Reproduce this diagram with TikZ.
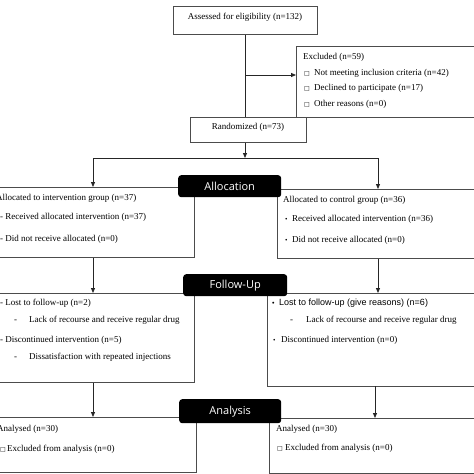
\documentclass[tikz,border=0pt]{standalone}
\usepackage{fontspec}
\setmainfont{Liberation Serif}
\newfontfamily\sansf{Liberation Sans}
\newfontfamily\stagef{Open Sans}
\newfontfamily\symf{DejaVu Sans}
\usetikzlibrary{arrows.meta}
\newcommand\mysq{{\symf\fontsize{6}{6}\selectfont □}}
\newcommand\mybul{{\fontsize{7}{7}\selectfont •}}
\begin{document}
\begin{tikzpicture}[x=1pt,y=-1pt,
 box/.style={draw=black!70, line width=0.9pt, rectangle, inner sep=0pt, anchor=north west},
 stage/.style={fill=black, rounded corners=3pt, text=white, font=\stagef\fontsize{11}{13}\selectfont, inner sep=0pt, anchor=north west},
 txt/.style={anchor=mid west, inner sep=0pt, font=\fontsize{9}{11}\selectfont},
 stxt/.style={anchor=mid west, inner sep=0pt, font=\sansf\fontsize{9}{11}\selectfont},
 arr/.style={-{Triangle[length=5pt,width=4pt]}, line width=0.8pt, draw=black!85},
 ln/.style={line width=0.8pt, draw=black!85}]
\useasboundingbox (0,0) rectangle (474,474);
\fill[white] (0,0) rectangle (474,474);
\clip (0,0) rectangle (474,474);

% boxes
\node[box, minimum width=144pt, minimum height=28pt] (assess) at (173,6) {};
\node[box, minimum width=190pt, minimum height=71pt] (excl) at (296,46) {};
\node[box, minimum width=116pt, minimum height=25pt, fill=white] (rand) at (190,117) {};
\node[box, minimum width=199pt, minimum height=70pt] (allocL) at (-5,187) {};
\node[box, minimum width=210pt, minimum height=69pt] (allocR) at (277,189) {};
\node[box, minimum width=199pt, minimum height=89pt] (follL) at (-5,293) {};
\node[box, minimum width=220pt, minimum height=93pt] (follR) at (267,293) {};
\node[box, minimum width=201pt, minimum height=55pt] (anaL) at (-5,417) {};
\node[box, minimum width=220pt, minimum height=55pt] (anaR) at (269,418) {};

% stage labels
\node[stage, minimum width=103pt, minimum height=22pt] (stAlloc) at (178,175) {Allocation};
\node[stage, minimum width=104pt, minimum height=22pt] (stFollow) at (183,274) {Follow-Up};
\node[stage, minimum width=102pt, minimum height=24pt] (stAna) at (179,399) {Analysis};

% texts
\node[txt, anchor=mid] (tAssess) at (245,17) {Assessed for eligibility (n=132)};
\node[txt] (tExcl) at (303,57) {Excluded (n=59)};
\node[txt] (sqE1) at (304,73) {\mysq};
\node[txt] (tE1) at (314,73) {Not meeting inclusion criteria (n=42)};
\node[txt] (sqE2) at (304,88) {\mysq};
\node[txt] (tE2) at (314,88) {Declined to participate (n=17)};
\node[txt] (sqE3) at (304,104) {\mysq};
\node[txt] (tE3) at (314,104) {Other reasons (n=0)};
\node[txt, anchor=mid] (tRand) at (248,127) {Randomized (n=73)};

\node[txt] (tAL0) at (-4,198) {Allocated to intervention group (n=37)};
\node[txt] (tAL1) at (0,217) {- Received allocated intervention (n=37)};
\node[txt] (tAL2) at (0,239) {- Did not receive allocated (n=0)};

\node[txt] (tAR0) at (283,200) {Allocated to control group (n=36)};
\node[txt] (bAR1) at (285,219) {\mybul};
\node[txt] (tAR1) at (292,219) {Received allocated intervention (n=36)};
\node[txt] (bAR2) at (285,240) {\mybul};
\node[txt] (tAR2) at (292,240) {Did not receive allocated (n=0)};

\node[txt] (tFL1) at (0,303) {- Lost to follow-up (n=2)};
\node[txt] (dFL2) at (14,320) {-};
\node[txt] (tFL2) at (29,320) {Lack of recourse and receive regular drug};
\node[txt] (tFL3) at (0,340) {- Discontinued intervention (n=5)};
\node[txt] (dFL4) at (14,357) {-};
\node[txt] (tFL4) at (29,357) {Dissatisfaction with repeated injections};

\node[stxt] (bFR1) at (272,303) {\mybul};
\node[stxt] (tFR1) at (279,303) {Lost to follow-up (give reasons) (n=6)};
\node[txt] (dFR2) at (290,320) {-};
\node[txt] (tFR2) at (306,320) {Lack of recourse and receive regular drug};
\node[txt] (bFR3) at (273,340) {\mybul};
\node[txt] (tFR3) at (281,340) {Discontinued intervention (n=0)};

\node[txt] (tNL1) at (-3,429) {Analysed (n=30)};
\node[txt] (sqNL2) at (0,449) {\mysq};
\node[txt] (tNL2) at (7,449) {Excluded from analysis (n=0)};

\node[txt] (tNR1) at (276,429) {Analysed (n=30)};
\node[txt] (sqNR2) at (277,448) {\mysq};
\node[txt] (tNR2) at (285,448) {Excluded from analysis (n=0)};

% connectors
\coordinate (jEx) at (245,75);
\coordinate (jTop) at (245,158);
\coordinate (jL) at (93,158);
\coordinate (jR) at (378,158);
\draw[ln] (assess.south -| jEx) -- (jEx |- rand.north);
\draw[arr] (jEx) -- (jEx -| excl.west);
\draw[arr] (jEx |- rand.south) -- (jTop);
\draw[ln] (jL) -- (jR);
\draw[arr] (jL) -- (jL |- allocL.north);
\draw[arr] (jR) -- (jR |- allocR.north);
\draw[arr] (jL |- allocL.south) -- (jL |- follL.north);
\draw[arr] (jR |- allocR.south) -- (jR |- follR.north);
\draw[arr] (jL |- follL.south) -- (jL |- anaL.north);
\coordinate (jR2) at (375,386);
\draw[arr] (jR2) -- (jR2 |- anaR.north);
\end{tikzpicture}
\end{document}
